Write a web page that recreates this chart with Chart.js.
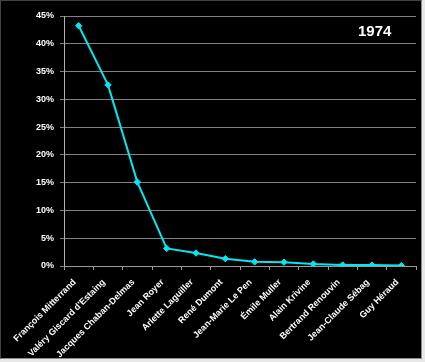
<!DOCTYPE html>
<html>
<head>
<meta charset="utf-8">
<script src="https://cdn.jsdelivr.net/npm/chart.js@4"></script>
<style>
  html, body { margin: 0; padding: 0; background: #e8e8e8; }
  #wrap { position: absolute; left: 0; top: 0; width: 420px; height: 357px;
          background: #000; border: 1px solid #444; border-right-color: #8c8c8c; border-bottom-color: #8c8c8c; }
  canvas { display: block; }
</style>
</head>
<body>
<div id="wrap"><canvas id="c" width="420" height="357"></canvas></div>
<script>
const candidates = [
  "François Mitterrand", "Valéry Giscard d'Estaing", "Jacques Chaban-Delmas",
  "Jean Royer", "Arlette Laguiller", "René Dumont", "Jean-Marie Le Pen",
  "Émile Muller", "Alain Krivine", "Bertrand Renouvin", "Jean-Claude Sébag", "Guy Héraud"
];
const votePercent = [43.25, 32.60, 15.11, 3.17, 2.33, 1.32, 0.75, 0.69, 0.37, 0.17, 0.16, 0.07];
const yearLabel = "1974";
const yTicks = [0, 5, 10, 15, 20, 25, 30, 35, 40, 45];

const fontFam = "'Liberation Sans', Arial, sans-serif";

const yearPlugin = {
  id: 'yearText',
  afterDraw(chart) {
    const ctx = chart.ctx, a = chart.chartArea;
    ctx.save();
    ctx.fillStyle = '#ffffff';
    ctx.font = 'bold 15px ' + fontFam;
    ctx.textAlign = 'left';
    ctx.textBaseline = 'alphabetic';
    ctx.fillText(yearLabel, a.right - 58, a.top + 20);
    ctx.restore();
  }
};

new Chart(document.getElementById('c'), {
  type: 'line',
  data: {
    labels: candidates,
    datasets: [{
      data: votePercent,
      borderColor: '#00e8f0',
      backgroundColor: '#00e8f0',
      borderWidth: 2,
      tension: 0,
      pointStyle: 'rectRot',
      pointRadius: 3.2,
      pointBorderWidth: 1,
      fill: false
    }]
  },
  options: {
    responsive: false,
    animation: false,
    layout: { padding: { top: 15, right: 4, left: 0, bottom: 0 } },
    plugins: { legend: { display: false }, tooltip: { enabled: false } },
    scales: {
      x: {
        type: 'category',
        offset: true,
        afterFit(s) { s.height = 92; },
        grid: { offset: true, drawOnChartArea: false, drawTicks: true, tickLength: 4, color: '#9a9a9a' },
        border: { color: '#9a9a9a', width: 1 },
        ticks: {
          color: '#ffffff', autoSkip: false, minRotation: 45, maxRotation: 45, padding: 7, labelOffset: -4,
          font: { family: fontFam, size: 9, weight: 'bold' }
        }
      },
      y: {
        min: 0, max: 45,
        afterFit(s) { s.width = 63; },
        afterBuildTicks(s) { s.ticks = yTicks.map(v => ({ value: v })); },
        grid: { color: '#808080', lineWidth: 1, tickLength: 4, drawTicks: true },
        border: { color: '#b0b0b0', width: 1 },
        ticks: {
          color: '#ffffff', padding: 6,
          font: { family: fontFam, size: 9, weight: 'bold' },
          callback: v => v + '%'
        }
      }
    }
  },
  plugins: [yearPlugin]
});
</script>
</body>
</html>
